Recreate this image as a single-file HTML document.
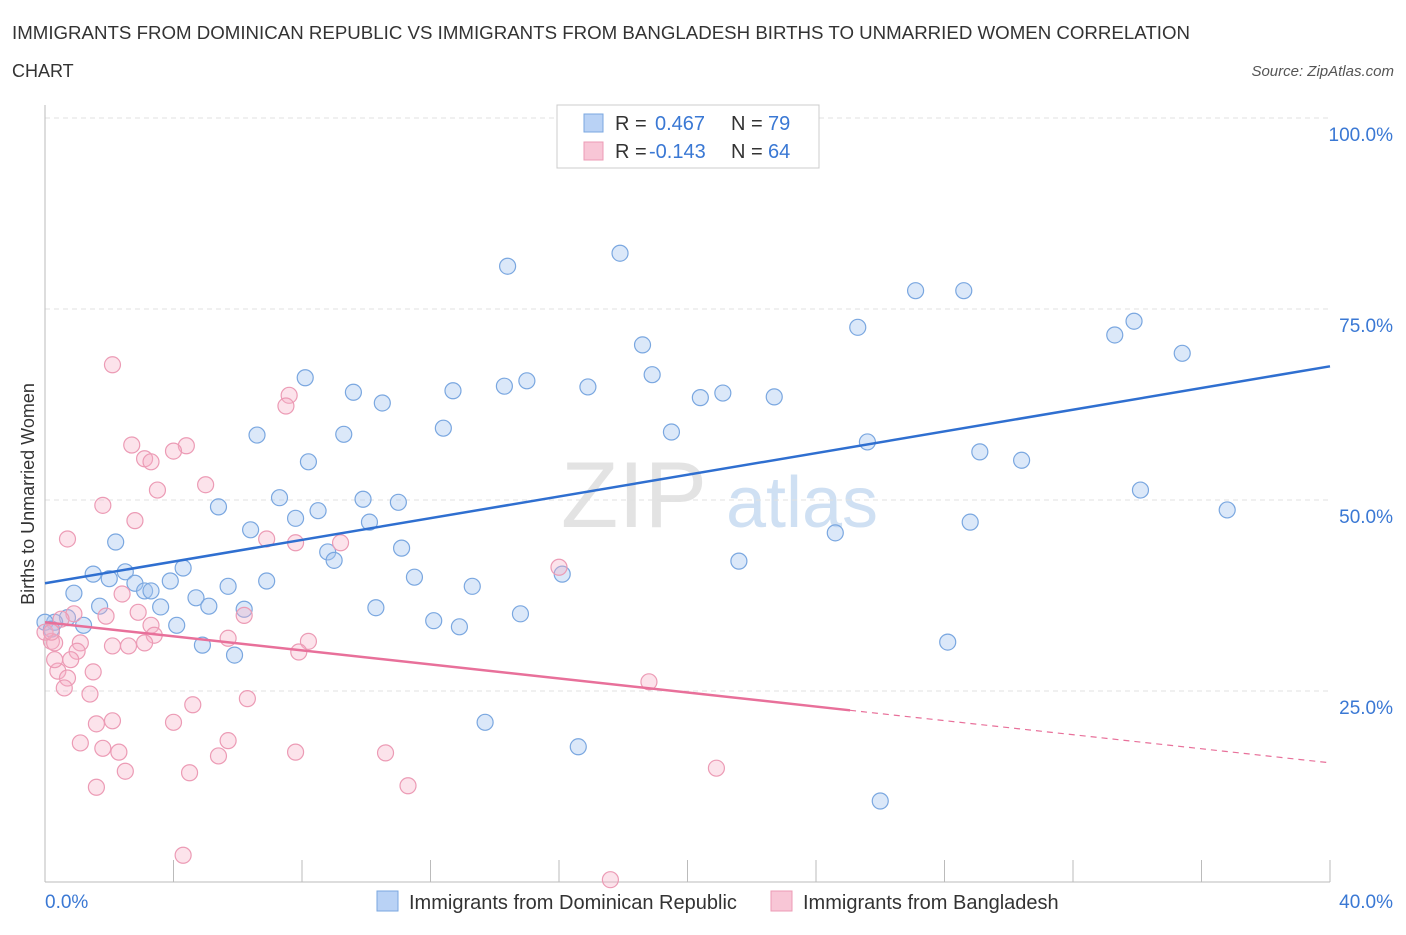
<!DOCTYPE html>
<html><head><meta charset="utf-8"><style>
body{margin:0;background:#fff;font-family:"Liberation Sans",sans-serif;}
svg text{font-family:"Liberation Sans",sans-serif;}
</style></head><body>
<svg id="chart" width="1406" height="930">
<text x="12" y="39" font-size="18" fill="#333" textLength="1178" lengthAdjust="spacingAndGlyphs">IMMIGRANTS FROM DOMINICAN REPUBLIC VS IMMIGRANTS FROM BANGLADESH BIRTHS TO UNMARRIED WOMEN CORRELATION</text>
<text x="12" y="77" font-size="18" fill="#333">CHART</text>
<text x="1394" y="76" font-size="15" fill="#555" font-style="italic" text-anchor="end">Source: ZipAtlas.com</text>
<g>
<text x="634" y="527" font-size="94" fill="#d8d8d8" font-family="Liberation Serif" text-anchor="middle" opacity="0.7">ZIP</text>
<text x="802" y="527" font-size="72" fill="#bcd3ee" text-anchor="middle" opacity="0.7">atlas</text>
</g>
<g id="grid"></g>
<g id="axes"></g>
<g id="marks"></g>
<g>
<rect x="557" y="105" width="262" height="63" fill="#fff" stroke="#ccc"/>
<rect x="584" y="114" width="19" height="18" fill="#b9d2f5" stroke="#7aa7e0"/>
<text x="615" y="130" font-size="20" fill="#333">R = </text><text x="655" y="130" font-size="20" fill="#3a78d4">0.467</text>
<text x="731" y="130" font-size="20" fill="#333">N = </text><text x="768" y="130" font-size="20" fill="#3a78d4">79</text>
<rect x="584" y="142" width="19" height="18" fill="#f8c6d6" stroke="#ec9bb5"/>
<text x="615" y="158" font-size="20" fill="#333">R = </text><text x="649" y="158" font-size="20" fill="#3a78d4">-0.143</text>
<text x="731" y="158" font-size="20" fill="#333">N = </text><text x="768" y="158" font-size="20" fill="#3a78d4">64</text>
</g>
<g>
<rect x="377" y="891" width="21" height="20" fill="#b9d2f5" stroke="#7aa7e0"/>
<text x="409" y="909" font-size="20" fill="#333">Immigrants from Dominican Republic</text>
<rect x="771" y="891" width="21" height="20" fill="#f8c6d6" stroke="#ec9bb5"/>
<text x="803" y="909" font-size="20" fill="#333">Immigrants from Bangladesh</text>
</g>
<text x="45" y="908" font-size="19" fill="#3a78d4">0.0%</text>
<text x="1393" y="908" font-size="19" fill="#3a78d4" text-anchor="end">40.0%</text>
<text x="34" y="494" font-size="18" fill="#333" text-anchor="middle" transform="rotate(-90 34 494)">Births to Unmarried Women</text>
</svg>
<script>
const blueX=[14.4,17.9,27.1,28.6,25.3,33.9,33.3,35.4,18.6,18.9,8.1,9.6,10.5,12.7,14.3,15.0,16.9,20.4,21.1,22.7,12.4,19.5,6.6,9.3,8.2,25.6,29.1,30.4,34.1,36.8,5.4,7.3,9.9,11.0,7.8,8.5,10.1,6.4,2.2,24.6,28.8,11.1,8.8,9.0,21.6,1.5,2.5,2.0,4.3,11.5,16.1,2.8,3.9,5.7,6.9,0.9,3.1,3.3,4.7,13.3,1.7,3.6,5.1,6.2,10.3,14.8,0.7,0.3,1.2,4.1,12.1,12.9,0.0,0.2,4.9,5.9,28.1,13.7,16.6,26.0];
const blueY=[80.6,82.3,77.4,77.4,72.6,73.4,71.6,69.2,70.3,66.4,66.0,64.1,62.7,64.3,64.9,65.6,64.8,63.4,64.0,63.5,59.4,58.9,58.5,58.6,55.0,57.6,56.3,55.2,51.3,48.7,49.1,50.3,50.1,49.7,47.6,48.6,47.1,46.1,44.5,45.7,47.1,43.7,43.2,42.1,42.0,40.3,40.6,39.7,41.1,39.9,40.3,39.1,39.4,38.7,39.4,37.8,38.1,38.1,37.2,38.7,36.1,36.0,36.1,35.7,35.9,35.1,34.6,34.0,33.6,33.6,34.2,33.4,34.0,33.1,31.0,29.7,31.4,20.9,17.7,10.6];
const pinkX=[2.1,7.6,7.5,2.7,4.4,4.0,3.1,3.3,3.5,5.0,1.8,2.8,0.7,6.9,7.8,9.2,16.0,2.4,0.9,1.9,2.9,0.5,3.3,6.2,3.4,5.7,8.2,0.2,1.1,2.1,2.6,3.1,1.0,0.3,0.8,7.9,0.4,1.5,0.7,1.4,18.8,4.6,6.3,1.6,2.1,4.0,1.1,5.7,1.8,2.3,7.8,10.6,5.4,2.5,4.5,20.9,1.6,11.3,4.3,17.6,0.0,0.2,0.6,0.3];
const pinkY=[67.7,63.7,62.3,57.2,57.1,56.4,55.4,55.0,51.3,52.0,49.3,47.3,44.9,44.9,44.4,44.4,41.2,37.7,35.1,34.8,35.3,34.4,33.6,34.9,32.3,31.9,31.5,31.5,31.3,30.9,30.9,31.3,30.2,31.3,29.1,30.1,27.6,27.5,26.7,24.6,26.2,23.2,24.0,20.7,21.1,20.9,18.2,18.5,17.5,17.0,17.0,16.9,16.5,14.5,14.3,14.9,12.4,12.6,3.5,0.3,32.7,32.7,25.4,29.1];
const blueTrend=[39.1,67.5];
const pinkTrend=[34.0,15.6];
const pinkSolidEnd=25.06;
const yTicks=[25,50,75,100];
const yTickLabels=["25.0%","50.0%","75.0%","100.0%"];
const xTicks=[0,4,8,12,16,20,24,28,32,36,40];

const NS="http://www.w3.org/2000/svg";
const X0=45,X1=1330,Y0=882,Y100=118;
function sx(v){return X0+(X1-X0)*v/40;}
function sy(v){return Y0-(Y0-Y100)*v/100;}
function mk(tag,attrs,parent){const e=document.createElementNS(NS,tag);for(const k in attrs)e.setAttribute(k,attrs[k]);parent.appendChild(e);return e;}
const grid=document.getElementById('grid'),axes=document.getElementById('axes'),marks=document.getElementById('marks');
yTicks.forEach((t,i)=>{
 const l=mk('line',{x1:X0,x2:X1,y1:sy(t),y2:sy(t),stroke:'#e2e2e2','stroke-dasharray':'5,4'},grid);
 
 
 const tx=mk('text',{x:1393,y:sy(t)+23,'font-size':19,fill:'#3a78d4','text-anchor':'end'},grid);
 tx.textContent=yTickLabels[i];
 
 
});
const ya=mk('line',{x1:X0,x2:X0,y1:105,y2:Y0,stroke:'#bbb'},axes);


const xa=mk('line',{x1:X0,x2:X1,y1:Y0,y2:Y0,stroke:'#bbb'},axes);


xTicks.forEach(t=>{
 const l=mk('line',{x1:sx(t),x2:sx(t),y1:Y0-22,y2:Y0,stroke:'#bbb'},axes);
 
 
});
blueX.forEach((v,i)=>{
 const c=mk('circle',{cx:sx(v),cy:sy(blueY[i]),r:8,fill:'rgba(165,198,240,0.4)',stroke:'#7aa7e0','stroke-width':1.2},marks);
 
 
});
pinkX.forEach((v,i)=>{
 const c=mk('circle',{cx:sx(v),cy:sy(pinkY[i]),r:8,fill:'rgba(245,175,198,0.35)',stroke:'#ec9bb5','stroke-width':1.2},marks);
 
 
});
const bl=mk('line',{x1:sx(0),y1:sy(blueTrend[0]),x2:sx(40),y2:sy(blueTrend[1]),stroke:'#2f6fd0','stroke-width':2.5},marks);


const pAt=x=>pinkTrend[0]+(pinkTrend[1]-pinkTrend[0])*x/40;
const pl=mk('line',{x1:sx(0),y1:sy(pinkTrend[0]),x2:sx(pinkSolidEnd),y2:sy(pAt(pinkSolidEnd)),stroke:'#e8709a','stroke-width':2.5},marks);


const pd=mk('line',{x1:sx(pinkSolidEnd),y1:sy(pAt(pinkSolidEnd)),x2:sx(40),y2:sy(pinkTrend[1]),stroke:'#e8709a','stroke-width':1.2,'stroke-dasharray':'6,5'},marks);


</script>
</body></html>
